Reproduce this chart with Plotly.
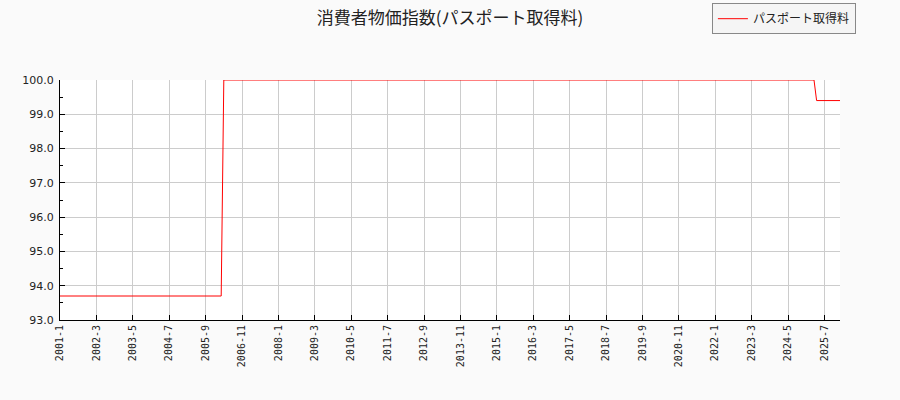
import plotly.graph_objects as go

# monthly index 2001-1 .. 2026-1
months = [f"{y}-{m}" for y in range(2001, 2027) for m in range(1, 13)][:301]

values = (
    [93.7, 93.7, 93.7, 93.7, 93.7, 93.7, 93.7, 93.7, 93.7, 93.7, 93.7, 93.7] +  # 2001
    [93.7, 93.7, 93.7, 93.7, 93.7, 93.7, 93.7, 93.7, 93.7, 93.7, 93.7, 93.7] +  # 2002
    [93.7, 93.7, 93.7, 93.7, 93.7, 93.7, 93.7, 93.7, 93.7, 93.7, 93.7, 93.7] +  # 2003
    [93.7, 93.7, 93.7, 93.7, 93.7, 93.7, 93.7, 93.7, 93.7, 93.7, 93.7, 93.7] +  # 2004
    [93.7, 93.7, 93.7, 93.7, 93.7, 93.7, 93.7, 93.7, 93.7, 93.7, 93.7, 93.7] +  # 2005
    [93.7, 93.7, 93.7, 100.0, 100.0, 100.0, 100.0, 100.0, 100.0, 100.0, 100.0, 100.0] +  # 2006
    [100.0, 100.0, 100.0, 100.0, 100.0, 100.0, 100.0, 100.0, 100.0, 100.0, 100.0, 100.0] +  # 2007
    [100.0, 100.0, 100.0, 100.0, 100.0, 100.0, 100.0, 100.0, 100.0, 100.0, 100.0, 100.0] +  # 2008
    [100.0, 100.0, 100.0, 100.0, 100.0, 100.0, 100.0, 100.0, 100.0, 100.0, 100.0, 100.0] +  # 2009
    [100.0, 100.0, 100.0, 100.0, 100.0, 100.0, 100.0, 100.0, 100.0, 100.0, 100.0, 100.0] +  # 2010
    [100.0, 100.0, 100.0, 100.0, 100.0, 100.0, 100.0, 100.0, 100.0, 100.0, 100.0, 100.0] +  # 2011
    [100.0, 100.0, 100.0, 100.0, 100.0, 100.0, 100.0, 100.0, 100.0, 100.0, 100.0, 100.0] +  # 2012
    [100.0, 100.0, 100.0, 100.0, 100.0, 100.0, 100.0, 100.0, 100.0, 100.0, 100.0, 100.0] +  # 2013
    [100.0, 100.0, 100.0, 100.0, 100.0, 100.0, 100.0, 100.0, 100.0, 100.0, 100.0, 100.0] +  # 2014
    [100.0, 100.0, 100.0, 100.0, 100.0, 100.0, 100.0, 100.0, 100.0, 100.0, 100.0, 100.0] +  # 2015
    [100.0, 100.0, 100.0, 100.0, 100.0, 100.0, 100.0, 100.0, 100.0, 100.0, 100.0, 100.0] +  # 2016
    [100.0, 100.0, 100.0, 100.0, 100.0, 100.0, 100.0, 100.0, 100.0, 100.0, 100.0, 100.0] +  # 2017
    [100.0, 100.0, 100.0, 100.0, 100.0, 100.0, 100.0, 100.0, 100.0, 100.0, 100.0, 100.0] +  # 2018
    [100.0, 100.0, 100.0, 100.0, 100.0, 100.0, 100.0, 100.0, 100.0, 100.0, 100.0, 100.0] +  # 2019
    [100.0, 100.0, 100.0, 100.0, 100.0, 100.0, 100.0, 100.0, 100.0, 100.0, 100.0, 100.0] +  # 2020
    [100.0, 100.0, 100.0, 100.0, 100.0, 100.0, 100.0, 100.0, 100.0, 100.0, 100.0, 100.0] +  # 2021
    [100.0, 100.0, 100.0, 100.0, 100.0, 100.0, 100.0, 100.0, 100.0, 100.0, 100.0, 100.0] +  # 2022
    [100.0, 100.0, 100.0, 100.0, 100.0, 100.0, 100.0, 100.0, 100.0, 100.0, 100.0, 100.0] +  # 2023
    [100.0, 100.0, 100.0, 100.0, 100.0, 100.0, 100.0, 100.0, 100.0, 100.0, 100.0, 100.0] +  # 2024
    [100.0, 100.0, 100.0, 99.4, 99.4, 99.4, 99.4, 99.4, 99.4, 99.4, 99.4, 99.4] +  # 2025
    [99.4]  # 2026
)

xticks = months[::14]
yticks = [93.0, 94.0, 95.0, 96.0, 97.0, 98.0, 99.0, 100.0]

fig = go.Figure()
fig.add_trace(go.Scatter(x=months, y=values, mode="lines", name="パスポート取得料",
                         line=dict(color="red", width=1)))

fig.update_layout(
    width=900, height=400,
    margin=dict(l=60, r=60, t=80, b=80, autoexpand=False),
    paper_bgcolor="#fafafa", plot_bgcolor="white",
    font=dict(family="Noto Sans CJK JP, DejaVu Sans", color="#222"),
    title=dict(text="消費者物価指数(パスポート取得料)", x=0.5, xanchor="center",
               y=0.955, yanchor="middle", font=dict(size=17, color="#222")),
    showlegend=True,
    legend=dict(xref="container", yref="container", x=0.951, xanchor="right",
                y=0.992, yanchor="top",
                bgcolor="#f5f5f5", bordercolor="#888", borderwidth=1,
                font=dict(size=12, color="#222")),
    xaxis=dict(type="category", range=[0, 300], tickvals=xticks, ticktext=xticks,
               tickangle=-90, ticks="inside", ticklen=5, tickcolor="black",
               showline=True, linecolor="black", linewidth=1, mirror=False,
               showgrid=True, gridcolor="#cccccc", gridwidth=1, zeroline=False,
               tickfont=dict(family="DejaVu Sans Mono", size=10, color="#222")),
    yaxis=dict(range=[93.0, 100.0], tickvals=yticks, tickformat=".1f",
               ticks="inside", ticklen=5, tickcolor="black", ticklabelstandoff=3,
               minor=dict(dtick=0.5, ticks="inside", ticklen=3, tickcolor="black", showgrid=False),
               showline=True, linecolor="black", linewidth=1,
               showgrid=True, gridcolor="#cccccc", gridwidth=1, zeroline=False,
               tickfont=dict(family="DejaVu Sans", size=11, color="#222")),
)

fig.write_html("out.html", config={"displayModeBar": False},
               post_script="document.body.style.margin='0';")
